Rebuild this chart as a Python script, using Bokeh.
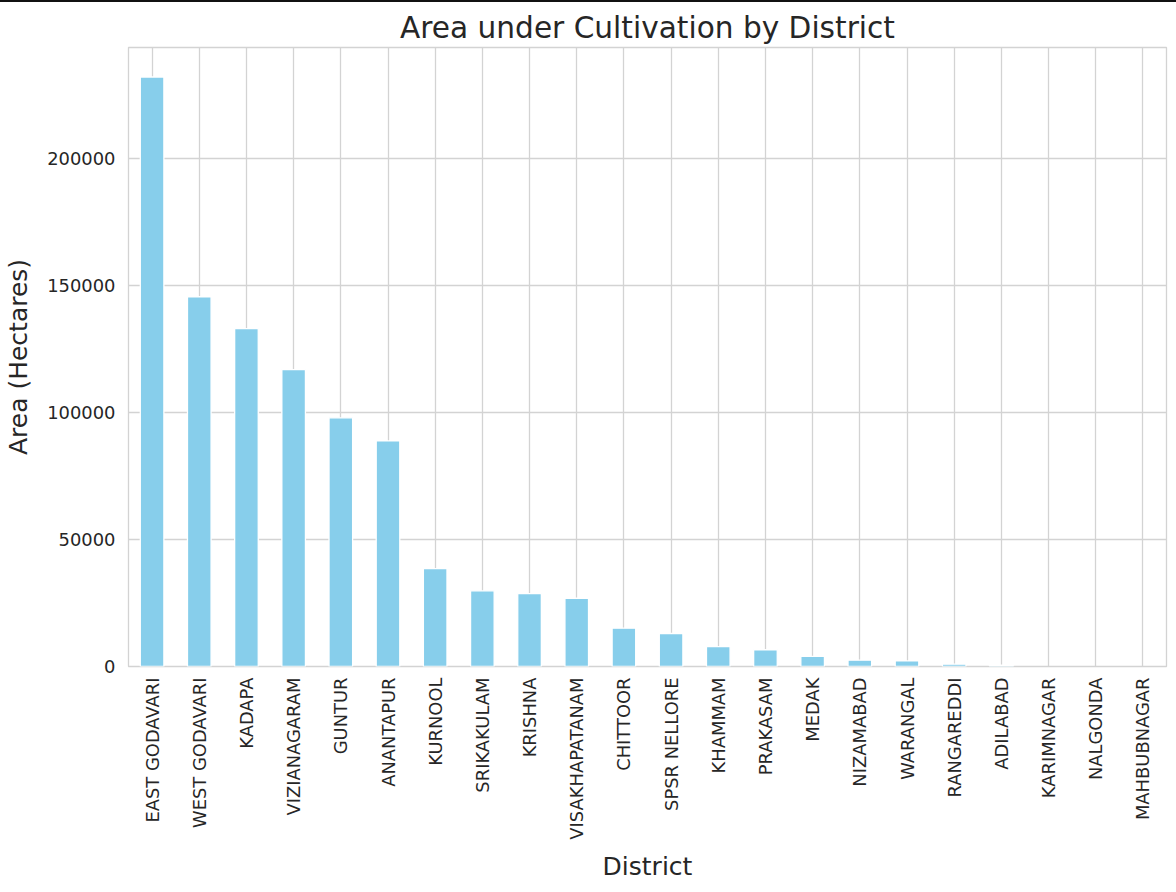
import math
from bokeh.plotting import figure
from bokeh.models import FactorRange, Range1d, FixedTicker, NumeralTickFormatter, Div, ColumnDataSource
from bokeh.layouts import column
from bokeh.embed import file_html
from bokeh.resources import INLINE

districts = ["EAST GODAVARI", "WEST GODAVARI", "KADAPA", "VIZIANAGARAM", "GUNTUR",
             "ANANTAPUR", "KURNOOL", "SRIKAKULAM", "KRISHNA", "VISAKHAPATANAM",
             "CHITTOOR", "SPSR NELLORE", "KHAMMAM", "PRAKASAM", "MEDAK", "NIZAMABAD",
             "WARANGAL", "RANGAREDDI", "ADILABAD", "KARIMNAGAR", "NALGONDA", "MAHBUBNAGAR"]
area = [232300, 145700, 133100, 117000, 98000, 88900, 38600, 29800, 28700, 26900,
        15100, 13000, 7800, 6600, 4000, 2500, 2200, 900, 500, 0, 0, 0]
y_ticks = [0, 50000, 100000, 150000, 200000]

FONT = "DejaVu Sans"
TXT = "#262626"
GRID = "#d3d3d3"

edge = ["white" if a > 0 else "rgba(0,0,0,0)" for a in area]
src = ColumnDataSource(dict(district=districts, area=area, edge=edge))

p = figure(x_range=FactorRange(*districts, range_padding=0),
           y_range=Range1d(0, max(area) * 1.05),
           width=1176, height=890, output_backend="svg", toolbar_location=None,
           min_border_left=128, min_border_right=10, min_border_top=45,
           min_border_bottom=226)

p.vbar(x="district", top="area", width=0.5, source=src,
       fill_color="#87CEEB", line_color="edge", line_width=1.3)

p.title.text = "Area under Cultivation by District"
p.title.align = "center"
p.title.text_font = FONT
p.title.text_font_size = "29.6px"
p.title.text_font_style = "normal"
p.title.text_color = TXT
p.title.standoff = 5

p.outline_line_color = GRID
p.outline_line_width = 1.3
p.background_fill_color = "white"
p.border_fill_color = "white"

for g in (p.xgrid, p.ygrid):
    g.grid_line_color = GRID
    g.grid_line_width = 1.3

p.yaxis.ticker = FixedTicker(ticks=y_ticks)
p.yaxis.formatter = NumeralTickFormatter(format="0")

for ax in (p.xaxis, p.yaxis):
    ax.axis_line_color = None
    ax.major_tick_line_color = None
    ax.minor_tick_line_color = None
    ax.major_tick_out = 0
    ax.major_tick_in = 0
    ax.major_label_text_font = FONT
    ax.major_label_text_font_size = "17.9px"
    ax.major_label_text_color = TXT
    ax.axis_label_text_font = FONT
    ax.axis_label_text_font_size = "25px"
    ax.axis_label_text_font_style = "normal"
    ax.axis_label_text_color = TXT

p.xaxis.axis_label = "District"
p.yaxis.axis_label = "Area (Hectares)"
p.xaxis.major_label_orientation = math.pi / 2
p.xaxis.major_label_standoff = 11
p.yaxis.major_label_standoff = 13
p.xaxis.axis_label_standoff = 9
p.yaxis.axis_label_standoff = 11

topline = Div(text="", width=1176, height=2, margin=0,
              styles={"background-color": "#111111"})

layout = column(topline, p, spacing=0)
open("out.html", "w").write(file_html(layout, INLINE))
